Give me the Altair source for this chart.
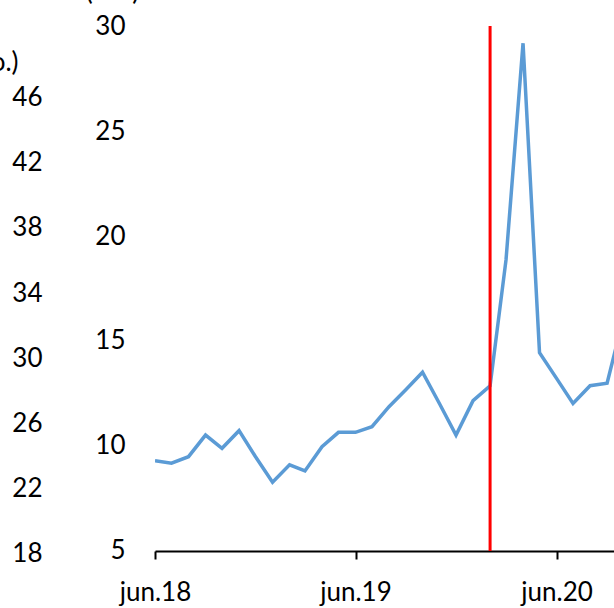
import altair as alt
import pandas as pd

# ---- data ----
months = [
    "2018-06-01", "2018-07-01", "2018-08-01", "2018-09-01", "2018-10-01", "2018-11-01",
    "2018-12-01", "2019-01-01", "2019-02-01", "2019-03-01", "2019-04-01", "2019-05-01",
    "2019-06-01", "2019-07-01", "2019-08-01", "2019-09-01", "2019-10-01", "2019-11-01",
    "2019-12-01", "2020-01-01", "2020-02-01", "2020-03-01", "2020-04-01", "2020-05-01",
    "2020-06-01", "2020-07-01", "2020-08-01", "2020-09-01", "2020-10-01",
]
values = [
    9.30, 9.18, 9.49, 10.52, 9.89, 10.73,
    9.49, 8.27, 9.10, 8.81, 9.97, 10.65,
    10.65, 10.92, 11.87, 12.69, 13.51, 12.01,
    10.52, 12.16, 12.86, 18.86, 29.18, 14.44,
    13.22, 12.03, 12.87, 12.99, 16.14,
]
x_tick_dates = ["2018-06-01", "2019-06-01", "2020-06-01"]
x_tick_labels = ["jun.18", "jun.19", "jun.20"]
y_ticks = [5, 10, 15, 20, 25, 30]
left_ticks = [18, 22, 26, 30, 34, 38, 42, 46]
marker_month = ["2020-02-01"]
inner_title = "(v %)"
left_title = "(mio.)"

FONT = "Lato"


def dt(s, hours=0):
    y, m, d = (int(p) for p in s.split("-"))
    return alt.DateTime(year=y, month=m, date=d, hours=hours, utc=True)


df = pd.DataFrame({"month": months, "value": values})
rule_df = pd.DataFrame({"month": marker_month})
left_df = pd.DataFrame({"v": left_ticks})

label_expr = " : ".join(
    f"utcyear(datum.value) == {int(d[:4])} ? '{lab}'" for d, lab in zip(x_tick_dates, x_tick_labels)
) + " : ''"

xscale = alt.Scale(type="utc", domain=[dt("2018-06-01"), dt("2020-09-13", 14)])
yscale = alt.Scale(domain=[4.571, 30.286], nice=False, zero=False)

x_axis = alt.Axis(
    values=[dt(d) for d in x_tick_dates],
    labelExpr=label_expr,
    offset=-9,
    tickSize=8,
    tickWidth=2,
    tickColor="black",
    domainColor="black",
    domainWidth=2,
    labelPadding=20,
    labelFlush=False,
    grid=False,
    title=None,
)

line = alt.Chart(df).mark_line(color="#5B9BD5", strokeWidth=3.5, clip=True).encode(
    x=alt.X("month:T", scale=xscale, axis=x_axis),
    y=alt.Y(
        "value:Q",
        scale=yscale,
        axis=alt.Axis(
            orient="left",
            values=y_ticks,
            labelPadding=30,
            ticks=False,
            tickSize=0,
            domain=False,
            grid=False,
            title=inner_title,
            titleAngle=0,
            titleAlign="center",
            titleBaseline="alphabetic",
            titleX=-43,
            titleY=-21,
        ),
    ),
)

rule = alt.Chart(rule_df).mark_rule(color="#FF0000", strokeWidth=3).encode(
    x=alt.X("month:T", scale=xscale),
    y=alt.datum(30),
    y2=alt.datum(5),
)

main = alt.layer(line, rule)

left = alt.Chart(left_df).mark_point(opacity=0).encode(
    y=alt.Y(
        "v:Q",
        scale=alt.Scale(domain=[17.63, 50.76], nice=False, zero=False),
        axis=alt.Axis(
            orient="left",
            values=left_ticks,
            offset=113,
            labelPadding=0,
            ticks=False,
            tickSize=0,
            domain=False,
            grid=False,
            title=left_title,
            titleAngle=0,
            titleAlign="right",
            titleBaseline="alphabetic",
            titleX=-24,
            titleY=50,
        ),
    ),
)

chart = (
    alt.layer(main, left)
    .resolve_scale(y="independent")
    .properties(
        width=459,
        height=540,
        autosize=alt.AutoSizeParams(type="none"),
        padding={"left": 155, "top": 20, "right": 0, "bottom": 48},
    )
    .configure_view(stroke=None)
    .configure_axis(
        labelFont=FONT,
        labelFontSize=26,
        labelColor="black",
        titleFont=FONT,
        titleFontSize=26,
        titleColor="black",
        titleFontWeight="normal",
    )
)

chart.save("out.html", embed_options={"renderer": "svg", "actions": False})
